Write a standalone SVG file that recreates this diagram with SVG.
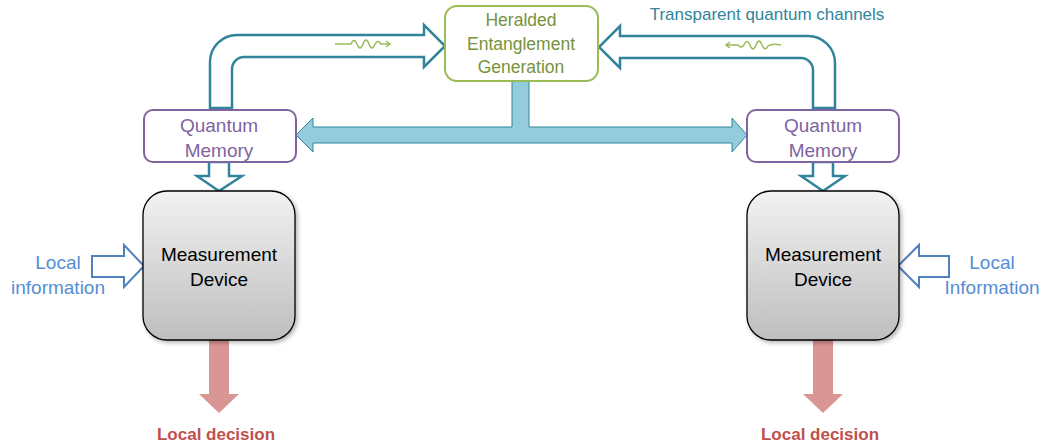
<svg xmlns="http://www.w3.org/2000/svg" width="1045" height="444" viewBox="0 0 1045 444">
<style>
text{font-family:"Liberation Sans",Arial,sans-serif;text-anchor:middle}
.teal{fill:#fff;stroke:#31849B;stroke-width:2.5;stroke-linejoin:miter}
.bus{fill:#93CDDD;stroke:#31849B;stroke-width:1}
.mem{fill:#fff;stroke:#8064A2;stroke-width:2}
.memt{fill:#8064A2;font-size:19px}
.her{fill:#fff;stroke:#9BBB59;stroke-width:2}
.hert{fill:#77933C;font-size:17.5px}
.dev{fill:url(#g);stroke:#000;stroke-width:1.3}
.devt{fill:#000;font-size:19px}
.info{fill:#fff;stroke:#4F81BD;stroke-width:2}
.infot{fill:#558ED5;font-size:19px}
.dec{fill:#D99694}
.dect{fill:#C0504D;font-size:17px;font-weight:bold}
.wave{fill:none;stroke:#9BBB59;stroke-width:1.5}
</style>
<defs>
<linearGradient id="g" x1="0" y1="0" x2="0" y2="1">
<stop offset="0" stop-color="#F2F2F2"/>
<stop offset="1" stop-color="#BEBEBE"/>
</linearGradient>
<filter id="sh" x="-10%" y="-10%" width="130%" height="130%">
<feDropShadow dx="2" dy="2" stdDeviation="2" flood-color="#000" flood-opacity="0.3"/>
</filter>
</defs>
<g id="connectors">
<path class="bus" d="M296,135 L313,118 L313,127 L512,127 L512,78 L529,78 L529,127 L732,127 L732,118 L747,135 L732,152 L732,143 L313,143 L313,152 Z"/>
<path class="teal" d="M210,108 L210,62 A27,27 0 0 1 237,35 L424,35 L424,25 L445,46 L424,67 L424,57 L244,57 A12,12 0 0 0 232,69 L232,108 Z"/>
<path class="teal" d="M835,108 L835,63 A27,27 0 0 0 808,36 L620,36 L620,26 L599,47 L620,68 L620,58 L801,58 A12,12 0 0 1 813,70 L813,108 Z"/>
<path class="wave" d="M335,44 L351,44 Q354,37 357,44 Q360,52 363,44 Q366,36 369,44 Q372,52 375,44 Q378,39 381,44 L390,44 M386,41 L390,44 L386,47"/>
<path class="wave" d="M781,45 Q772,43 768,46 Q765,52 762,45 Q759,37 756,45 Q753,53 750,45 Q747,38 744,45 Q741,49 738,45 L726,45 M730,42 L726,45 L730,48"/>
<path class="teal" d="M209,162 L229,162 L229,176 L242,176 L219,191 L197,176 L209,176 Z"/>
<path class="teal" d="M813,162 L833,162 L833,176 L845,176 L823,191 L801,176 L813,176 Z"/>
<path class="info" d="M92,256 L124,256 L124,245 L144,266 L124,287 L124,277 L92,277 Z"/>
<path class="info" d="M949,256 L919,256 L919,245 L898,266 L919,287 L919,277 L949,277 Z"/>
<path class="dec" d="M209,340 L229,340 L229,394 L239,394 L219,413 L199,394 L209,394 Z"/>
<path class="dec" d="M813,340 L833,340 L833,394 L843,394 L823,413 L803,394 L813,394 Z"/>
</g>
<g id="heralded">
<rect class="her" x="445" y="6" width="153" height="75" rx="12"/>
<text class="hert" x="521" y="26">Heralded</text>
<text class="hert" x="521" y="50">Entanglement</text>
<text class="hert" x="521" y="73">Generation</text>
</g>
<g id="channels-label">
<text x="767" y="20" style="fill:#31849B;font-size:17px">Transparent quantum channels</text>
</g>
<g id="memory-left">
<rect class="mem" x="144" y="110" width="152" height="52" rx="9"/>
<text class="memt" x="219" y="132">Quantum</text>
<text class="memt" x="219" y="157">Memory</text>
</g>
<g id="memory-right">
<rect class="mem" x="747" y="110" width="152" height="52" rx="9"/>
<text class="memt" x="823" y="132">Quantum</text>
<text class="memt" x="823" y="157">Memory</text>
</g>
<g id="device-left">
<rect class="dev" x="143" y="191" width="152" height="149" rx="24" filter="url(#sh)"/>
<text class="devt" x="219" y="261">Measurement</text>
<text class="devt" x="219" y="286">Device</text>
</g>
<g id="device-right">
<rect class="dev" x="747" y="191" width="152" height="149" rx="24" filter="url(#sh)"/>
<text class="devt" x="823" y="261">Measurement</text>
<text class="devt" x="823" y="286">Device</text>
</g>
<g id="info-left">
<text class="infot" x="58" y="269">Local</text>
<text class="infot" x="58" y="294">information</text>
</g>
<g id="info-right">
<text class="infot" x="992" y="269">Local</text>
<text class="infot" x="992" y="294">Information</text>
</g>
<g id="decision-left">
<text class="dect" x="216" y="440">Local decision</text>
</g>
<g id="decision-right">
<text class="dect" x="820" y="440">Local decision</text>
</g>
</svg>
